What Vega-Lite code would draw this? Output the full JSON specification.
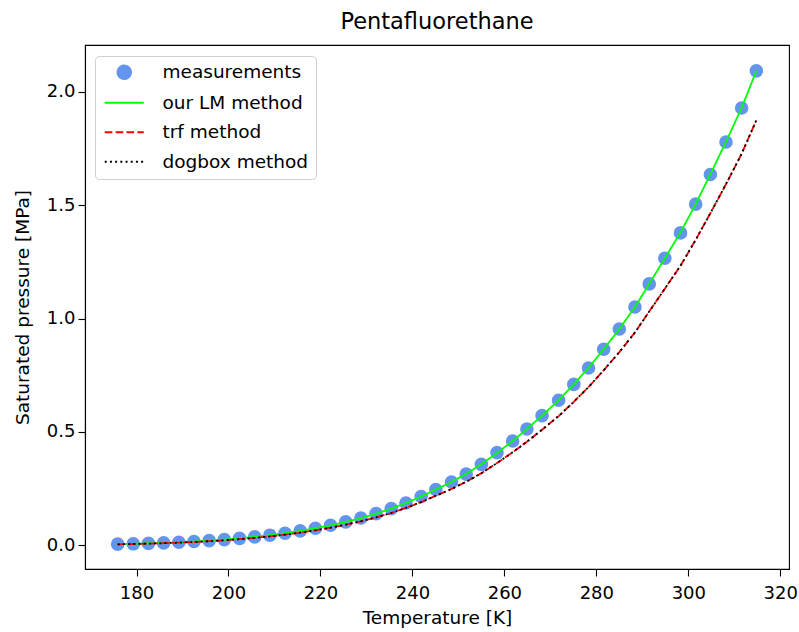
{
  "$schema": "https://vega.github.io/schema/vega-lite/v6.json",
  "autosize": {"type": "none"},
  "padding": {"left": 85, "top": 45, "right": 10, "bottom": 63},
  "width": 704,
  "height": 524,
  "background": "white",
  "title": {"text": "Pentafluorethane", "font": "DejaVu Sans", "fontSize": 22.5, "fontWeight": "normal", "color": "#000", "anchor": "middle", "baseline": "bottom", "offset": 9, "dy": 20},
  "config": {
    "font": "DejaVu Sans",
    "view": {"stroke": "#000", "strokeWidth": 1.1},
    "axis": {"domainColor": "#000", "domainWidth": 1.1, "tickColor": "#000", "tickWidth": 1.1, "tickSize": 7, "labelColor": "#000", "titleColor": "#000", "labelFont": "DejaVu Sans", "titleFont": "DejaVu Sans", "labelFontSize": 18, "titleFontSize": 18.5, "titleFontWeight": "normal", "grid": false}
  },
  "data": {"values": [
    {"T":175.9,"P":0.0050,"series":"measurements"},{"T":179.3,"P":0.0065,"series":"measurements"},{"T":182.6,"P":0.0084,"series":"measurements"},{"T":185.9,"P":0.0106,"series":"measurements"},{"T":189.2,"P":0.0133,"series":"measurements"},{"T":192.5,"P":0.0166,"series":"measurements"},{"T":195.8,"P":0.0205,"series":"measurements"},{"T":199.1,"P":0.0252,"series":"measurements"},{"T":202.4,"P":0.0307,"series":"measurements"},{"T":205.7,"P":0.0371,"series":"measurements"},{"T":209.0,"P":0.0446,"series":"measurements"},{"T":212.3,"P":0.0533,"series":"measurements"},{"T":215.6,"P":0.0634,"series":"measurements"},{"T":218.9,"P":0.0750,"series":"measurements"},{"T":222.2,"P":0.0882,"series":"measurements"},{"T":225.5,"P":0.1032,"series":"measurements"},{"T":228.8,"P":0.1203,"series":"measurements"},{"T":232.1,"P":0.1398,"series":"measurements"},{"T":235.4,"P":0.1618,"series":"measurements"},{"T":238.6,"P":0.1865,"series":"measurements"},{"T":241.9,"P":0.2150,"series":"measurements"},{"T":245.1,"P":0.2460,"series":"measurements"},{"T":248.5,"P":0.2790,"series":"measurements"},{"T":251.7,"P":0.3140,"series":"measurements"},{"T":255.0,"P":0.3570,"series":"measurements"},{"T":258.4,"P":0.4090,"series":"measurements"},{"T":261.8,"P":0.4600,"series":"measurements"},{"T":264.9,"P":0.5130,"series":"measurements"},{"T":268.2,"P":0.5720,"series":"measurements"},{"T":271.8,"P":0.6400,"series":"measurements"},{"T":275.1,"P":0.7100,"series":"measurements"},{"T":278.3,"P":0.7820,"series":"measurements"},{"T":281.6,"P":0.8650,"series":"measurements"},{"T":285.0,"P":0.9540,"series":"measurements"},{"T":288.4,"P":1.0510,"series":"measurements"},{"T":291.5,"P":1.1530,"series":"measurements"},{"T":294.9,"P":1.2660,"series":"measurements"},{"T":298.3,"P":1.3780,"series":"measurements"},{"T":301.6,"P":1.5050,"series":"measurements"},{"T":304.8,"P":1.6360,"series":"measurements"},{"T":308.2,"P":1.7790,"series":"measurements"},{"T":311.6,"P":1.9290,"series":"measurements"},{"T":314.8,"P":2.0930,"series":"measurements"},
    {"T":175.9,"P":0.0050,"series":"our LM method"},{"T":179.3,"P":0.0065,"series":"our LM method"},{"T":182.6,"P":0.0084,"series":"our LM method"},{"T":185.9,"P":0.0106,"series":"our LM method"},{"T":189.2,"P":0.0133,"series":"our LM method"},{"T":192.5,"P":0.0166,"series":"our LM method"},{"T":195.8,"P":0.0205,"series":"our LM method"},{"T":199.1,"P":0.0252,"series":"our LM method"},{"T":202.4,"P":0.0307,"series":"our LM method"},{"T":205.7,"P":0.0371,"series":"our LM method"},{"T":209.0,"P":0.0446,"series":"our LM method"},{"T":212.3,"P":0.0533,"series":"our LM method"},{"T":215.6,"P":0.0634,"series":"our LM method"},{"T":218.9,"P":0.0750,"series":"our LM method"},{"T":222.2,"P":0.0882,"series":"our LM method"},{"T":225.5,"P":0.1032,"series":"our LM method"},{"T":228.8,"P":0.1203,"series":"our LM method"},{"T":232.1,"P":0.1398,"series":"our LM method"},{"T":235.4,"P":0.1618,"series":"our LM method"},{"T":238.6,"P":0.1865,"series":"our LM method"},{"T":241.9,"P":0.2150,"series":"our LM method"},{"T":245.1,"P":0.2460,"series":"our LM method"},{"T":248.5,"P":0.2790,"series":"our LM method"},{"T":251.7,"P":0.3150,"series":"our LM method"},{"T":255.0,"P":0.3580,"series":"our LM method"},{"T":258.4,"P":0.4070,"series":"our LM method"},{"T":261.8,"P":0.4600,"series":"our LM method"},{"T":264.9,"P":0.5130,"series":"our LM method"},{"T":268.2,"P":0.5720,"series":"our LM method"},{"T":271.8,"P":0.6400,"series":"our LM method"},{"T":275.1,"P":0.7100,"series":"our LM method"},{"T":278.3,"P":0.7830,"series":"our LM method"},{"T":281.6,"P":0.8650,"series":"our LM method"},{"T":285.0,"P":0.9540,"series":"our LM method"},{"T":288.4,"P":1.0510,"series":"our LM method"},{"T":291.5,"P":1.1530,"series":"our LM method"},{"T":294.9,"P":1.2660,"series":"our LM method"},{"T":298.3,"P":1.3800,"series":"our LM method"},{"T":301.6,"P":1.5050,"series":"our LM method"},{"T":304.8,"P":1.6370,"series":"our LM method"},{"T":308.2,"P":1.7800,"series":"our LM method"},{"T":311.6,"P":1.9300,"series":"our LM method"},{"T":314.8,"P":2.0930,"series":"our LM method"},
    {"T":175.9,"P":0.0044,"series":"trf method"},{"T":179.3,"P":0.0057,"series":"trf method"},{"T":182.6,"P":0.0074,"series":"trf method"},{"T":185.9,"P":0.0093,"series":"trf method"},{"T":189.2,"P":0.0117,"series":"trf method"},{"T":192.5,"P":0.0146,"series":"trf method"},{"T":195.8,"P":0.0180,"series":"trf method"},{"T":199.1,"P":0.0222,"series":"trf method"},{"T":202.4,"P":0.0270,"series":"trf method"},{"T":205.7,"P":0.0326,"series":"trf method"},{"T":209.0,"P":0.0392,"series":"trf method"},{"T":212.3,"P":0.0469,"series":"trf method"},{"T":215.6,"P":0.0558,"series":"trf method"},{"T":218.9,"P":0.0660,"series":"trf method"},{"T":222.2,"P":0.0776,"series":"trf method"},{"T":225.5,"P":0.0908,"series":"trf method"},{"T":228.8,"P":0.1059,"series":"trf method"},{"T":232.1,"P":0.1230,"series":"trf method"},{"T":235.4,"P":0.1424,"series":"trf method"},{"T":238.6,"P":0.1650,"series":"trf method"},{"T":241.9,"P":0.1905,"series":"trf method"},{"T":245.1,"P":0.2185,"series":"trf method"},{"T":248.5,"P":0.2485,"series":"trf method"},{"T":251.7,"P":0.2800,"series":"trf method"},{"T":255.0,"P":0.3180,"series":"trf method"},{"T":258.4,"P":0.3630,"series":"trf method"},{"T":261.8,"P":0.4100,"series":"trf method"},{"T":264.9,"P":0.4570,"series":"trf method"},{"T":268.2,"P":0.5100,"series":"trf method"},{"T":271.8,"P":0.5700,"series":"trf method"},{"T":275.1,"P":0.6330,"series":"trf method"},{"T":278.3,"P":0.6980,"series":"trf method"},{"T":281.6,"P":0.7720,"series":"trf method"},{"T":285.0,"P":0.8520,"series":"trf method"},{"T":288.4,"P":0.9390,"series":"trf method"},{"T":291.5,"P":1.0310,"series":"trf method"},{"T":294.9,"P":1.1320,"series":"trf method"},{"T":298.3,"P":1.2330,"series":"trf method"},{"T":301.6,"P":1.3470,"series":"trf method"},{"T":304.8,"P":1.4650,"series":"trf method"},{"T":308.2,"P":1.5930,"series":"trf method"},{"T":311.6,"P":1.7270,"series":"trf method"},{"T":314.8,"P":1.8750,"series":"trf method"},
    {"T":175.9,"P":0.0044,"series":"dogbox method"},{"T":179.3,"P":0.0057,"series":"dogbox method"},{"T":182.6,"P":0.0074,"series":"dogbox method"},{"T":185.9,"P":0.0093,"series":"dogbox method"},{"T":189.2,"P":0.0117,"series":"dogbox method"},{"T":192.5,"P":0.0146,"series":"dogbox method"},{"T":195.8,"P":0.0180,"series":"dogbox method"},{"T":199.1,"P":0.0222,"series":"dogbox method"},{"T":202.4,"P":0.0270,"series":"dogbox method"},{"T":205.7,"P":0.0326,"series":"dogbox method"},{"T":209.0,"P":0.0392,"series":"dogbox method"},{"T":212.3,"P":0.0469,"series":"dogbox method"},{"T":215.6,"P":0.0558,"series":"dogbox method"},{"T":218.9,"P":0.0660,"series":"dogbox method"},{"T":222.2,"P":0.0776,"series":"dogbox method"},{"T":225.5,"P":0.0908,"series":"dogbox method"},{"T":228.8,"P":0.1059,"series":"dogbox method"},{"T":232.1,"P":0.1230,"series":"dogbox method"},{"T":235.4,"P":0.1424,"series":"dogbox method"},{"T":238.6,"P":0.1650,"series":"dogbox method"},{"T":241.9,"P":0.1905,"series":"dogbox method"},{"T":245.1,"P":0.2185,"series":"dogbox method"},{"T":248.5,"P":0.2485,"series":"dogbox method"},{"T":251.7,"P":0.2800,"series":"dogbox method"},{"T":255.0,"P":0.3180,"series":"dogbox method"},{"T":258.4,"P":0.3630,"series":"dogbox method"},{"T":261.8,"P":0.4100,"series":"dogbox method"},{"T":264.9,"P":0.4570,"series":"dogbox method"},{"T":268.2,"P":0.5100,"series":"dogbox method"},{"T":271.8,"P":0.5700,"series":"dogbox method"},{"T":275.1,"P":0.6330,"series":"dogbox method"},{"T":278.3,"P":0.6980,"series":"dogbox method"},{"T":281.6,"P":0.7720,"series":"dogbox method"},{"T":285.0,"P":0.8520,"series":"dogbox method"},{"T":288.4,"P":0.9390,"series":"dogbox method"},{"T":291.5,"P":1.0310,"series":"dogbox method"},{"T":294.9,"P":1.1320,"series":"dogbox method"},{"T":298.3,"P":1.2330,"series":"dogbox method"},{"T":301.6,"P":1.3470,"series":"dogbox method"},{"T":304.8,"P":1.4650,"series":"dogbox method"},{"T":308.2,"P":1.5930,"series":"dogbox method"},{"T":311.6,"P":1.7270,"series":"dogbox method"},{"T":314.8,"P":1.8750,"series":"dogbox method"}
  ]},
  "encoding": {
    "x": {"field": "T", "type": "quantitative", "title": "Temperature [K]", "scale": {"domain": [168.8, 321.9], "nice": false, "zero": false}, "axis": {"values": [180, 200, 220, 240, 260, 280, 300, 320], "format": "d", "labelPadding": 8, "titlePadding": 6.5}},
    "y": {"field": "P", "type": "quantitative", "title": "Saturated pressure [MPa]", "scale": {"domain": [-0.1046, 2.207], "nice": false, "zero": false}, "axis": {"values": [0, 0.5, 1, 1.5, 2], "format": ".1f", "labelPadding": 3, "titlePadding": 14}}
  },
  "layer": [
    {
      "transform": [{"filter": "datum.series === 'measurements'"}],
      "mark": {"type": "point", "filled": true, "opacity": 1, "size": 185},
      "encoding": {
        "color": {"field": "series", "type": "nominal", "scale": {"domain": ["measurements", "our LM method", "trf method", "dogbox method"], "range": ["#6495ED", "#00FF00", "#FF0000", "#000000"]},
          "legend": {"title": null, "orient": "none", "legendX": 10, "legendY": 11, "padding": 7, "symbolOffset": 13, "labelOffset": 29, "rowPadding": 10.5, "labelFontSize": 18.5, "labelFont": "DejaVu Sans", "labelColor": "#000", "symbolSize": 185, "strokeColor": "#d0d0d0", "fillColor": "rgba(255,255,255,0.8)", "cornerRadius": 4, "labelLimit": 300,
            "encode": {"symbols": {"update": {"shape": {"scale": "shape", "field": "value"}, "strokeDash": {"scale": "strokeDash", "field": "value"}, "fill": {"scale": "color", "field": "value"}, "stroke": {"scale": "color", "field": "value"}, "strokeWidth": {"value": 1.8}, "opacity": {"value": 1}}}}}},
        "shape": {"field": "series", "type": "nominal", "scale": {"domain": ["measurements", "our LM method", "trf method", "dogbox method"], "range": ["circle", "M-2.87,0H2.87", "M-2.87,0H2.87", "M-2.87,0H2.87"]}, "legend": null}
      }
    },
    {
      "transform": [{"filter": "datum.series !== 'measurements'"}],
      "mark": {"type": "line", "strokeWidth": 1.8},
      "encoding": {
        "color": {"field": "series", "type": "nominal", "scale": {"domain": ["measurements", "our LM method", "trf method", "dogbox method"], "range": ["#6495ED", "#00FF00", "#FF0000", "#000000"]},
          "legend": {"title": null, "orient": "none", "legendX": 10, "legendY": 11, "padding": 7, "symbolOffset": 13, "labelOffset": 29, "rowPadding": 10.5, "labelFontSize": 18.5, "labelFont": "DejaVu Sans", "labelColor": "#000", "symbolSize": 185, "strokeColor": "#d0d0d0", "fillColor": "rgba(255,255,255,0.8)", "cornerRadius": 4, "labelLimit": 300,
            "encode": {"symbols": {"update": {"shape": {"scale": "shape", "field": "value"}, "strokeDash": {"scale": "strokeDash", "field": "value"}, "fill": {"scale": "color", "field": "value"}, "stroke": {"scale": "color", "field": "value"}, "strokeWidth": {"value": 1.8}, "opacity": {"value": 1}}}}}},
        "strokeDash": {"field": "series", "type": "nominal", "scale": {"domain": ["measurements", "our LM method", "trf method", "dogbox method"], "range": [[1, 0], [1, 0], [7.6, 3.3], [2, 3.2]]}, "legend": null}
      }
    }
  ]
}
